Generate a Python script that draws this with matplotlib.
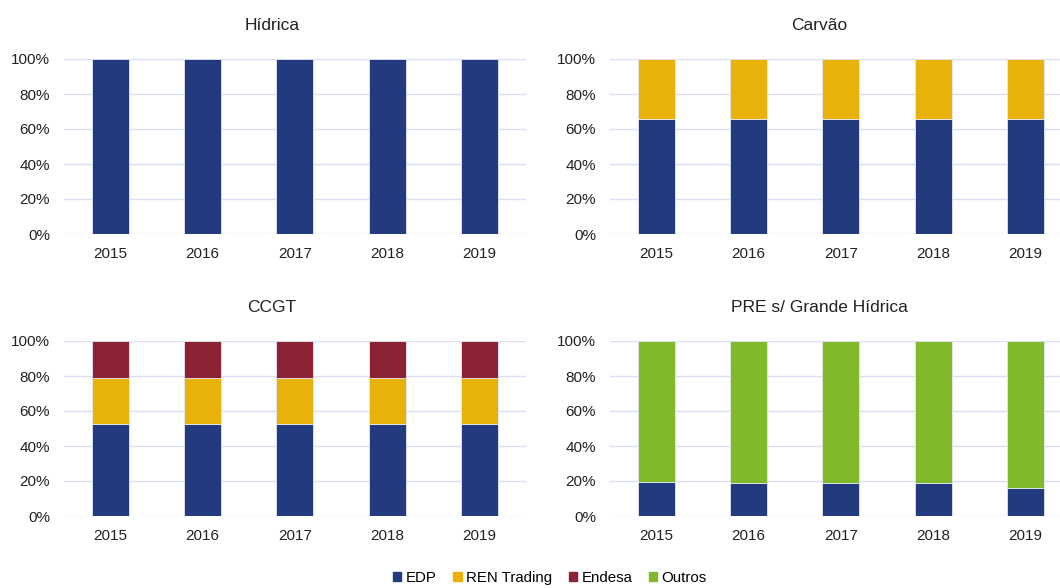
import numpy as np
import matplotlib
matplotlib.use("Agg")
import matplotlib.pyplot as plt
from matplotlib.ticker import PercentFormatter
from matplotlib.patches import Patch

plt.rcParams['font.family'] = ['Liberation Sans', 'DejaVu Sans']

years = ["2015", "2016", "2017", "2018", "2019"]

# shares (%) per technology
hidrica_edp = [100, 100, 100, 100, 100]

carvao_edp = [65.6, 65.6, 65.6, 65.6, 65.6]
carvao_ren = [34.4, 34.4, 34.4, 34.4, 34.4]

ccgt_edp = [52.5, 52.5, 52.5, 52.5, 52.5]
ccgt_ren = [26.2, 26.2, 26.2, 26.2, 26.2]
ccgt_endesa = [21.3, 21.3, 21.3, 21.3, 21.3]

pre_edp = [19.4, 18.6, 18.6, 18.6, 15.9]
pre_outros = [80.6, 81.4, 81.4, 81.4, 84.1]

col_edp = "#213B7E"
col_ren = "#E8B20A"
col_endesa = "#8C2334"
col_outros = "#80B92A"

W, H = 1060, 588
fig = plt.figure(figsize=(W / 100, H / 100), dpi=100)


def make_ax(x0, x1, ytop, ybot):
    return fig.add_axes([x0 / W, 1 - ybot / H, (x1 - x0) / W, (ybot - ytop) / H])


ax_h = make_ax(64, 525.5, 59, 234)
ax_c = make_ax(610, 1071.5, 59, 234)
ax_g = make_ax(64, 525.5, 341, 516)
ax_p = make_ax(610, 1071.5, 341, 516)

# title centre (pixels) for each chart area
panels = [
    (ax_h, "Hídrica", (272, 25), [(hidrica_edp, col_edp)]),
    (ax_c, "Carvão", (819, 25), [(carvao_edp, col_edp), (carvao_ren, col_ren)]),
    (ax_g, "CCGT", (272, 307), [(ccgt_edp, col_edp), (ccgt_ren, col_ren), (ccgt_endesa, col_endesa)]),
    (ax_p, "PRE s/ Grande Hídrica", (819, 307), [(pre_edp, col_edp), (pre_outros, col_outros)]),
]

x = np.arange(len(years))
for ax, title, (tx, ty), series in panels:
    bottom = np.zeros(len(years))
    for vals, col in series:
        ax.bar(x, vals, 0.4, bottom=bottom, color=col, edgecolor="#E4E8F4",
               linewidth=0.6, zorder=3)
        bottom += np.array(vals)
    ax.set_xlim(-0.5, len(years) - 0.5)
    ax.set_ylim(0, 100)
    ax.set_yticks(np.arange(0, 101, 20))
    ax.yaxis.set_major_formatter(PercentFormatter(decimals=0))
    ax.set_xticks(x)
    ax.set_xticklabels(years)
    ax.grid(axis="y", color="#D9DEF0", linewidth=1, zorder=0)
    for s in ax.spines.values():
        s.set_visible(False)
    ax.tick_params(length=0, labelsize=11, colors="#222222", pad=9)
    ax.tick_params(axis="y", pad=10)
    fig.text(tx / W, 1 - ty / H, title, fontsize=12.5, color="#222222",
             ha="center", va="center")

handles = [Patch(color=col_edp, label="EDP"), Patch(color=col_ren, label="REN Trading"),
           Patch(color=col_endesa, label="Endesa"), Patch(color=col_outros, label="Outros")]
fig.legend(handles=handles, loc="center", bbox_to_anchor=(550 / W, 1 - 578 / H), ncol=4,
           frameon=False, fontsize=10.8, handlelength=0.55, handleheight=0.55,
           handletextpad=0.3, columnspacing=1.1)

fig.savefig("out.png", dpi=100)
